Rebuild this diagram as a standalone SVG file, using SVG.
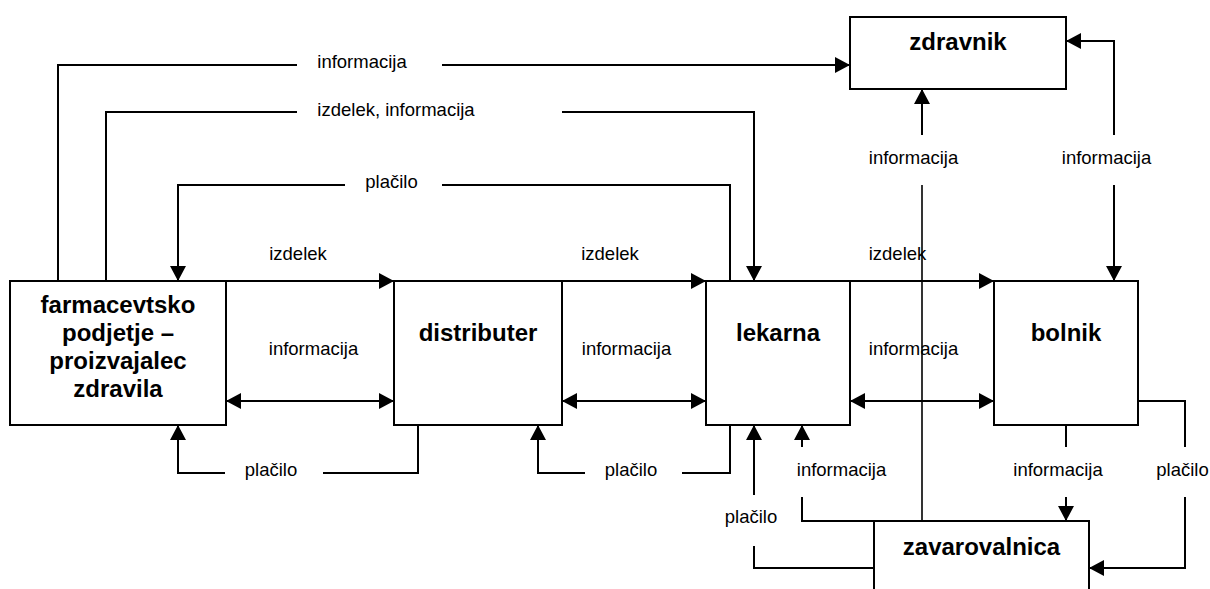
<svg xmlns="http://www.w3.org/2000/svg" width="1210" height="589" viewBox="0 0 1210 589">
  <style>
    .box { fill: #fff; stroke: #000; stroke-width: 2; }
    .title { font-family: "Liberation Sans", Arial, sans-serif; font-weight: bold; font-size: 24px; text-anchor: middle; fill: #000; }
    .lbl { font-family: "Liberation Sans", Arial, sans-serif; font-size: 18.5px; text-anchor: middle; fill: #000; }
    .wire { fill: none; stroke: #000; stroke-width: 2; }
    .thin { fill: none; stroke: #000; stroke-width: 1.6; }
  </style>
  <defs>
    <marker id="arrow" markerUnits="userSpaceOnUse" markerWidth="15" markerHeight="16" refX="15" refY="8" orient="auto-start-reverse">
      <path d="M0,0 L15,8 L0,16 z" fill="#000"/>
    </marker>
  </defs>

  <rect width="1210" height="589" fill="#fff"/>

  <!-- nodes -->
  <g id="farmacevtsko-podjetje">
    <rect class="box" x="10" y="281" width="216" height="144"/>
    <text class="title" x="118" y="313">farmacevtsko</text>
    <text class="title" x="118" y="341">podjetje –</text>
    <text class="title" x="118" y="369">proizvajalec</text>
    <text class="title" x="118" y="397">zdravila</text>
  </g>
  <g id="distributer">
    <rect class="box" x="394" y="281" width="168" height="144"/>
    <text class="title" x="478" y="341">distributer</text>
  </g>
  <g id="lekarna">
    <rect class="box" x="706" y="281" width="144" height="144"/>
    <text class="title" x="778" y="341">lekarna</text>
  </g>
  <g id="bolnik">
    <rect class="box" x="994" y="281" width="144" height="144"/>
    <text class="title" x="1066" y="341">bolnik</text>
  </g>
  <g id="zdravnik">
    <rect class="box" x="850" y="17" width="216" height="72"/>
    <text class="title" x="958" y="50">zdravnik</text>
  </g>
  <g id="zavarovalnica">
    <rect class="box" x="874" y="521" width="215" height="90"/>
    <text class="title" x="981.5" y="555">zavarovalnica</text>
  </g>

  <!-- connectors -->
  <g id="connectors">
    <!-- producer -> doctor -->
    <path class="wire" d="M58,281 V65 H297"/>
    <path class="wire" d="M442,65 H850" marker-end="url(#arrow)"/>
    <!-- producer -> pharmacy -->
    <path class="wire" d="M106,281 V112 H297"/>
    <path class="wire" d="M562,112 H754 V281" marker-end="url(#arrow)"/>
    <!-- pharmacy -> producer payment -->
    <path class="wire" d="M730,281 V185 H442"/>
    <path class="wire" d="M345,185 H178 V281" marker-end="url(#arrow)"/>
    <!-- producer -> distributer -->
    <path class="wire" d="M226,281 H394" marker-end="url(#arrow)"/>
    <path class="wire" d="M226,401 H394" marker-start="url(#arrow)" marker-end="url(#arrow)"/>
    <path class="wire" d="M418,425 V473 H323"/>
    <path class="wire" d="M225,473 H178 V425" marker-end="url(#arrow)"/>
    <!-- distributer -> pharmacy -->
    <path class="wire" d="M562,281 H706" marker-end="url(#arrow)"/>
    <path class="wire" d="M562,401 H706" marker-start="url(#arrow)" marker-end="url(#arrow)"/>
    <path class="wire" d="M730,425 V473 H682"/>
    <path class="wire" d="M585,473 H538 V425" marker-end="url(#arrow)"/>
    <!-- pharmacy -> patient -->
    <path class="wire" d="M850,281 H994" marker-end="url(#arrow)"/>
    <path class="wire" d="M850,401 H994" marker-start="url(#arrow)" marker-end="url(#arrow)"/>
    <!-- insurer -> doctor -->
    <path class="thin" d="M922,521 V185"/>
    <path class="wire" d="M922,135 V89" marker-end="url(#arrow)"/>
    <!-- doctor <-> patient -->
    <path class="wire" d="M1114,135 V41 H1066" marker-end="url(#arrow)"/>
    <path class="wire" d="M1114,185 V281" marker-end="url(#arrow)"/>
    <!-- patient -> insurer -->
    <path class="wire" d="M1066,425 V447"/>
    <path class="wire" d="M1066,497 V521" marker-end="url(#arrow)"/>
    <path class="wire" d="M1138,401 H1185 V447"/>
    <path class="wire" d="M1185,497 V568 H1089" marker-end="url(#arrow)"/>
    <!-- insurer -> pharmacy -->
    <path class="wire" d="M874,521 H802 V497"/>
    <path class="wire" d="M802,447 V425" marker-end="url(#arrow)"/>
    <path class="wire" d="M874,568 H754 V546"/>
    <path class="wire" d="M754,495 V425" marker-end="url(#arrow)"/>

    <!-- labels -->
    <text class="lbl" x="362" y="68">informacija</text>
    <text class="lbl" x="396" y="116">izdelek, informacija</text>
    <text class="lbl" x="391.5" y="188">plačilo</text>
    <text class="lbl" x="298" y="260">izdelek</text>
    <text class="lbl" x="313.5" y="355">informacija</text>
    <text class="lbl" x="271" y="476">plačilo</text>
    <text class="lbl" x="610" y="260">izdelek</text>
    <text class="lbl" x="626.5" y="355">informacija</text>
    <text class="lbl" x="631" y="476">plačilo</text>
    <text class="lbl" x="897.5" y="260">izdelek</text>
    <text class="lbl" x="913.5" y="355">informacija</text>
    <text class="lbl" x="913.5" y="164">informacija</text>
    <text class="lbl" x="1106.5" y="164">informacija</text>
    <text class="lbl" x="841.5" y="476">informacija</text>
    <text class="lbl" x="751" y="523">plačilo</text>
    <text class="lbl" x="1058" y="476">informacija</text>
    <text class="lbl" x="1182.5" y="476">plačilo</text>
  </g>
</svg>
